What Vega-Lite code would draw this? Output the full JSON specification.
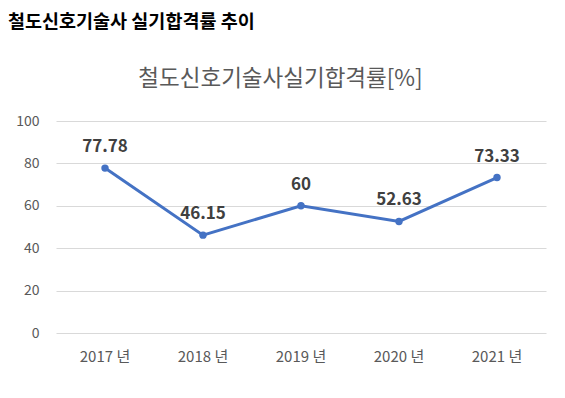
{
  "$schema": "https://vega.github.io/schema/vega-lite/v6.json",
  "width": 490,
  "height": 212,
  "autosize": "none",
  "padding": {"left": 56, "top": 121, "right": 19, "bottom": 65},
  "background": "white",
  "title": {
    "text": "철도신호기술사 실기합격률 추이",
    "anchor": "start",
    "frame": "group",
    "dx": -48,
    "fontSize": 18.5,
    "fontWeight": "bold",
    "color": "#000000",
    "font": "Noto Sans CJK KR",
    "offset": 36
  },
  "config": {
    "view": {"stroke": null},
    "font": "Noto Sans CJK KR"
  },
  "data": {
    "values": [
      {"year": "2017 년", "rate": 77.78},
      {"year": "2018 년", "rate": 46.15},
      {"year": "2019 년", "rate": 60},
      {"year": "2020 년", "rate": 52.63},
      {"year": "2021 년", "rate": 73.33}
    ]
  },
  "encoding": {
    "x": {
      "field": "year",
      "type": "nominal",
      "sort": null,
      "scale": {"type": "band", "paddingInner": 0, "paddingOuter": 0},
      "axis": {
        "title": null,
        "labelAngle": 0,
        "ticks": false,
        "domain": false,
        "labelPadding": 16,
        "labelFontSize": 15,
        "labelColor": "#595959",
        "labelFont": "Noto Sans CJK KR"
      }
    },
    "y": {
      "field": "rate",
      "type": "quantitative",
      "scale": {"domain": [0, 100], "nice": false},
      "axis": {
        "values": [0, 20, 40, 60, 80, 100],
        "ticks": false,
        "domain": false,
        "grid": true,
        "gridColor": "#D9D9D9",
        "gridWidth": 1,
        "labelPadding": 17,
        "labelFontSize": 14,
        "labelColor": "#595959",
        "labelFont": "Noto Sans CJK KR",
        "title": "철도신호기술사실기합격률[%]",
        "titleAngle": 0,
        "titleX": 224,
        "titleY": -43,
        "titleAlign": "center",
        "titleBaseline": "middle",
        "titleFontSize": 22.5,
        "titleFontWeight": "normal",
        "titleColor": "#595959",
        "titleFont": "Noto Sans CJK KR"
      }
    }
  },
  "layer": [
    {
      "mark": {"type": "line", "color": "#4472C4", "strokeWidth": 3, "point": {"filled": true, "size": 55, "color": "#4472C4"}}
    },
    {
      "mark": {"type": "text", "dy": -21, "fontSize": 17, "fontWeight": "bold", "color": "#404040", "font": "Noto Sans CJK KR"},
      "encoding": {
        "text": {"field": "rate", "type": "quantitative", "format": "~g"}
      }
    }
  ]
}
